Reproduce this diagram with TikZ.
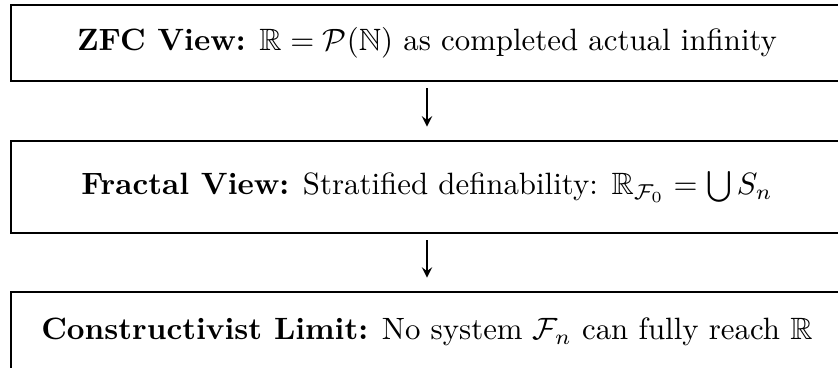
\documentclass[tikz,border=0pt]{standalone}
\usepackage{amssymb, amsmath}
\usetikzlibrary{positioning, arrows}
\tikzstyle{viewbox}=[draw, line width=0.8pt, shape=rectangle, minimum width=9.485cm, inner sep=0pt]
\tikzset{>=stealth}

\begin{document}
\begin{tikzpicture}[x=0.0114cm, y=-0.0114cm]
\useasboundingbox (0,0) rectangle (838,367);
\node[viewbox, minimum height=0.866cm] (zfc) at (427,43) {\textbf{ZFC View:} $\mathbb{R} = \mathcal{P}(\mathbb{N})$ as completed actual infinity};
\node[viewbox, minimum height=1.049cm] (frac) at (427,187) {\textbf{Fractal View:} Stratified definability: $\mathbb{R}_{\mathcal{F}_0} = \bigcup S_n$};
\node[viewbox, minimum height=0.91cm] (cons) at (427,332) {\textbf{Constructivist Limit:} No system $\mathcal{F}_n$ can fully reach $\mathbb{R}$};
%arrows
\draw[->, line width=0.5pt, shorten <= 0.068cm, shorten >= 0.15cm] (zfc) -- (frac);
\draw[->, line width=0.5pt, shorten <= 0.068cm, shorten >= 0.15cm] (frac) -- (cons);
\end{tikzpicture}
\end{document}
